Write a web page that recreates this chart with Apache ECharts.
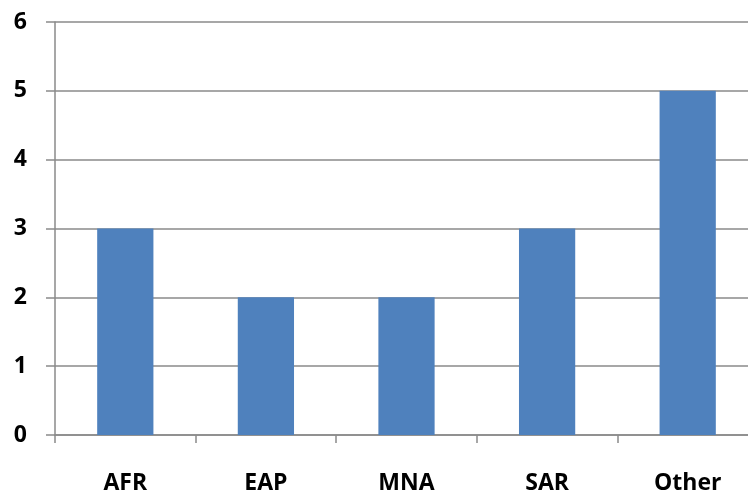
<!DOCTYPE html>
<html>
<head>
<meta charset="utf-8">
<script src="https://cdn.jsdelivr.net/npm/echarts@6/dist/echarts.min.js"></script>
<style>
  html, body { margin: 0; padding: 0; background: #fff; overflow: hidden; }
  /* the plot runs past the right edge of the picture, so the canvas is a bit wider than the window */
  #chart { width: 770px; height: 492px; }
</style>
</head>
<body>
<div id="chart"></div>
<script>
  // regions and counts
  const regions = ["AFR", "EAP", "MNA", "SAR", "Other"];
  const counts = [3, 2, 2, 3, 5];

  const lineColor = "#8a8a8a";
  const labelFont = {fontFamily: "Open Sans", fontWeight: "bold", fontSize: 23, color: "#000"};

  const myChart = echarts.init(document.getElementById("chart"));

  const option = {
    animation: false,
    // keep the grid where it is, even though the labels sit close to the bottom edge
    grid: {left: 55, top: 22, width: 703, height: 413, outerBoundsMode: "none"},
    xAxis: {
      type: "category",
      data: regions,
      axisLine: {lineStyle: {color: lineColor, width: 1.5}},
      axisTick: {show: true, length: 8, lineStyle: {color: lineColor, width: 1.5}},
      axisLabel: Object.assign({margin: 37}, labelFont),
    },
    yAxis: {
      type: "value",
      min: 0,
      max: 6,
      interval: 1,
      axisLine: {show: true, lineStyle: {color: lineColor, width: 1.5}},
      axisTick: {show: true, length: 9, lineStyle: {color: lineColor, width: 1.5}},
      splitLine: {lineStyle: {color: lineColor, width: 1.5}},
      axisLabel: Object.assign({margin: 28}, labelFont),
    },
    series: [{
      type: "bar",
      data: counts,
      barWidth: "40%",
      itemStyle: {color: "#4f81bd"},
    }],
  };

  myChart.setOption(option);
</script>
</body>
</html>
